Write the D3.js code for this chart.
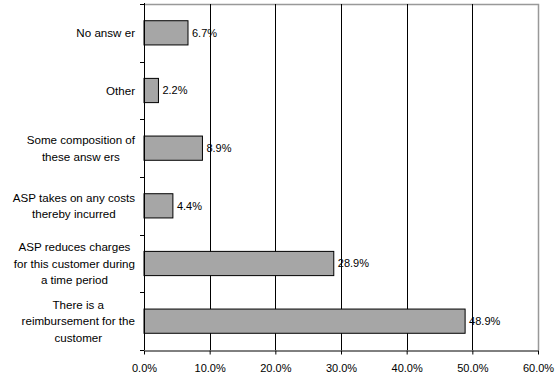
<!DOCTYPE html>
<html lang="en-us">
    <head>
        <meta charset="utf-8">
        <title>ASP responses</title>
        <script src="https://d3js.org/d3.v7.min.js"></script>
        <style>
            body { margin: 0; background: white; }
            text { font-family: "Liberation Sans", Arial, sans-serif; font-size: 11px; fill: #000; }
        </style>
    </head>

    <body>
        <div id="d3render"></div>
    </body>

    <script>
        // categories top to bottom, each label split into its lines
        const categories = [
            ['No answ er'],
            ['Other'],
            ['Some composition of', 'these answ ers'],
            ['ASP takes on any costs', 'thereby incurred'],
            ['ASP reduces charges', 'for this customer during', 'a time period'],
            ['There is a', 'reimbursement for the', 'customer']
        ];
        const values = [6.7, 2.2, 8.9, 4.4, 28.9, 48.9];
        const xTicks = [0, 10, 20, 30, 40, 50, 60];

        const svgWidth = 556;
        const svgHeight = 376;
        const margin = { top: 4, right: 18, bottom: 26, left: 144 };

        const svg = d3.select('#d3render')
            .append('svg')
            .attr('width', svgWidth)
            .attr('height', svgHeight)

        const xScale = d3.scaleLinear()
            .domain([0, 60])
            .range([margin.left, svgWidth - margin.right])

        const yScale = d3.scaleBand()
            .domain(d3.range(categories.length))
            .range([margin.top, svgHeight - margin.bottom])
            .paddingInner(0.58)
            .paddingOuter(0.29)

        // plot border top/right
        svg.append('path')
            .attr('d', `M${xScale(0)},${margin.top + 0.5}H${xScale(60) + 0.5}V${svgHeight - margin.bottom}`)
            .attr('fill', 'none')
            .attr('stroke', '#999')
            .attr('stroke-width', 1.5)

        // gridlines
        svg.selectAll('.grid')
            .data(xTicks.slice(1, -1))
            .enter()
            .append('line')
            .attr('class', 'grid')
            .attr('x1', d => Math.round(xScale(d)) + 0.5)
            .attr('x2', d => Math.round(xScale(d)) + 0.5)
            .attr('y1', margin.top)
            .attr('y2', svgHeight - margin.bottom)
            .attr('stroke', '#000')

        svg.selectAll('rect')
            .data(values)
            .enter()
            .append('rect')
            .attr('x', xScale(0))
            .attr('y', (d, i) => yScale(i))
            .attr('width', d => xScale(d) - xScale(0))
            .attr('height', yScale.bandwidth())
            .attr('fill', '#a6a6a6')
            .attr('stroke', '#000')

        svg.selectAll('.val')
            .data(values)
            .enter()
            .append('text')
            .attr('class', 'val')
            .attr('x', d => xScale(d) + 4)
            .attr('y', (d, i) => yScale(i) + yScale.bandwidth() / 2)
            .attr('dy', '0.35em')
            .text(d => d.toFixed(1) + '%')

        // x axis
        const xAxis = d3.axisBottom(xScale)
            .tickValues(xTicks)
            .tickFormat(d => d.toFixed(1) + '%')
            .tickSize(4)
            .tickSizeOuter(0)

        svg.append('g')
            .attr('transform', `translate(0, ${svgHeight - margin.bottom + 0.5})`)
            .call(xAxis)
            .call(g => g.select('.domain').attr('stroke', '#000'))
            .call(g => g.selectAll('text').attr('dy', '1.3em').style('font-size', '11px').style('font-family', '"Liberation Sans", Arial, sans-serif'))

        // y axis: line with ticks at band boundaries
        const boundaries = d3.range(categories.length + 1).map(i => margin.top + i * (svgHeight - margin.bottom - margin.top) / categories.length);
        svg.append('line')
            .attr('x1', xScale(0) + 0.5).attr('x2', xScale(0) + 0.5)
            .attr('y1', margin.top - 1).attr('y2', svgHeight - margin.bottom)
            .attr('stroke', '#000')
        svg.selectAll('.ytick')
            .data(boundaries)
            .enter()
            .append('line')
            .attr('class', 'ytick')
            .attr('x1', xScale(0) - 4).attr('x2', xScale(0))
            .attr('y1', d => Math.round(d) + 0.5).attr('y2', d => Math.round(d) + 0.5)
            .attr('stroke', '#000')

        // category labels, centred lines, block right aligned
        const lineH = 16.7;
        categories.forEach((lines, i) => {
            const g = svg.append('g');
            const cy = yScale(i) + yScale.bandwidth() / 2;
            const texts = lines.map((l, j) => g.append('text')
                .attr('y', cy + (j - (lines.length - 1) / 2) * lineH)
                .attr('dy', '0.35em')
                .attr('text-anchor', 'middle')
                .style('font-size', '11.6px')
                .text(l));
            const maxW = d3.max(texts, t => t.node().getComputedTextLength());
            texts.forEach(t => t.attr('x', 135 - maxW / 2));
        });
    </script>
</html>
